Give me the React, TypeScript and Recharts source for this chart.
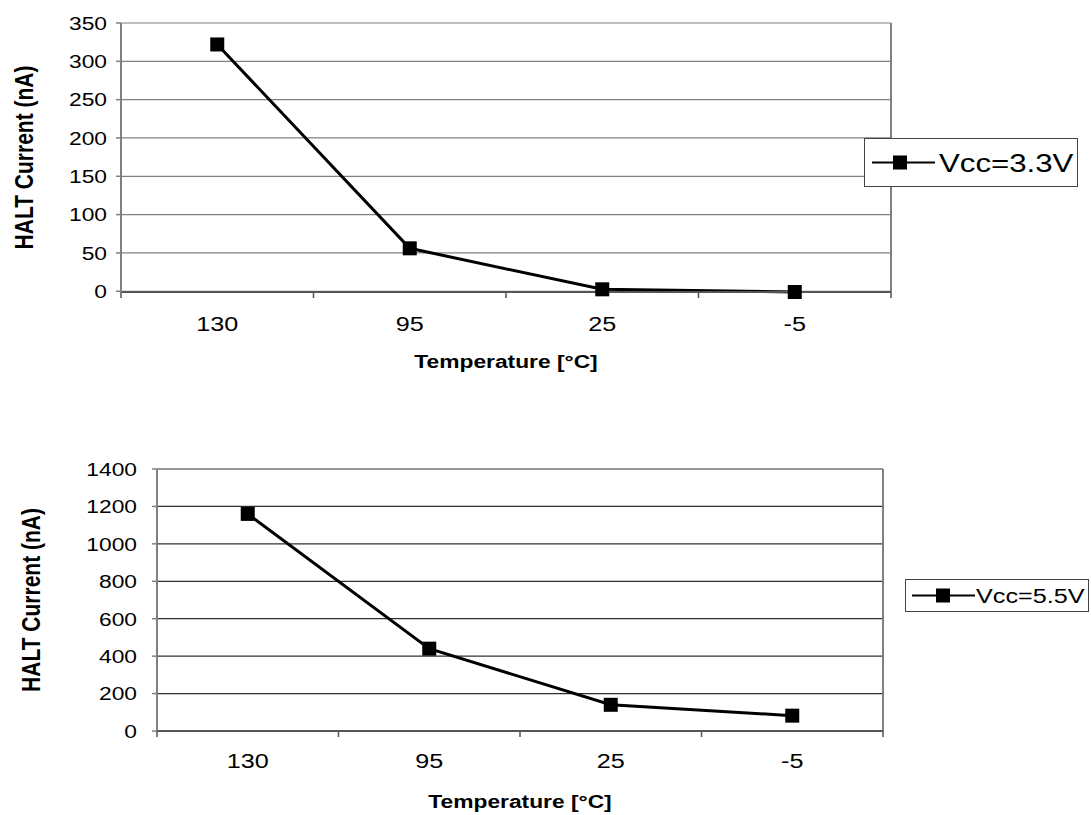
import React from "react";
import { CartesianGrid, Legend, Line, LineChart, ReferenceLine, XAxis, YAxis } from "recharts";

const TEMPS = ["130", "95", "25", "-5"];
const HALT_3V3 = [322, 56, 2.5, -1];
const HALT_5V5 = [1160, 440, 140, 82];
const Y_TICKS_3V3 = [0, 50, 100, 150, 200, 250, 300, 350];
const Y_TICKS_5V5 = [0, 200, 400, 600, 800, 1000, 1200, 1400];

const W = 1091;
const FONT = "'Liberation Sans', Arial, sans-serif";
const SX = 1.2; // the source picture is stretched sideways

function SText({ x, y, anchor = "middle", size, weight = "normal", rotate = 0, children }: any) {
  return (
    <text
      transform={`translate(${x},${y}) scale(${SX},1)${rotate ? ` rotate(${rotate})` : ""}`}
      textAnchor={anchor}
      dominantBaseline="central"
      fontSize={size}
      fontWeight={weight}
      fontFamily={FONT}
      fill="#000"
    >
      {children}
    </text>
  );
}

function LegendBox({ payload, box }: any) {
  const name = payload && payload[0] ? payload[0].value : "";
  const cy = box.h / 2;
  return (
    <svg width={box.w} height={box.h} style={{ display: "block" }}>
      <rect x={0.5} y={0.5} width={box.w - 1} height={box.h - 1} fill="#fff" stroke="#444" />
      <line x1={box.lineX1} x2={box.lineX2} y1={cy} y2={cy} stroke="#000" strokeWidth={2} />
      <rect x={box.markX - 7} y={cy - 7} width={14} height={14} fill="#000" />
      <SText x={box.textX} y={cy} anchor="start" size={box.font}>
        {name}
      </SText>
    </svg>
  );
}

function Panel({ top, height, margin, yWidth, values, yTicks, name, grid, tickGap, xLabelDy, xTitleDy, yTitleX, legend }: any) {
  const data = TEMPS.map((t, i) => ({ x: i + 0.5, temp: t, value: values[i] }));
  const n = TEMPS.length;
  const xTicks = TEMPS.flatMap((_, i) => [i, i + 0.5]).concat(n);
  const yMax = yTicks[yTicks.length - 1];

  const xTick = (p: any) => {
    const v = p.payload.value;
    if (Number.isInteger(v)) {
      return <line x1={p.x} x2={p.x} y1={p.y} y2={p.y + 6} stroke="#555" strokeWidth={1.5} />;
    }
    return (
      <SText x={p.x} y={p.y + xLabelDy} size={21}>
        {TEMPS[Math.floor(v)]}
      </SText>
    );
  };
  const yTick = (p: any) => (
    <SText x={p.x} y={p.y} anchor="end" size={19}>
      {p.payload.value}
    </SText>
  );
  const XTitle = ({ viewBox }: any) => (
    <SText x={viewBox.x + viewBox.width / 2} y={viewBox.y + xTitleDy} size={19} weight="bold">
      Temperature [°C]
    </SText>
  );
  const YTitle = ({ viewBox }: any) => (
    <SText x={viewBox.x + yTitleX} y={viewBox.y + viewBox.height / 2} size={21} weight="bold" rotate={-90}>
      HALT Current (nA)
    </SText>
  );

  return (
    <div style={{ position: "absolute", left: 0, top, width: W, height }}>
      <LineChart width={W} height={height} data={data} margin={margin}>
        <CartesianGrid vertical={false} stroke={grid} strokeWidth={1.2} />
        <XAxis
          type="number"
          dataKey="x"
          domain={[0, n]}
          ticks={xTicks}
          interval={0}
          allowDecimals
          tickSize={0}
          tickMargin={0}
          tickLine={false}
          height={margin.xHeight}
          axisLine={{ stroke: "#555", strokeWidth: 2 }}
          tick={xTick}
          label={<XTitle />}
        />
        <YAxis
          type="number"
          domain={[0, yMax]}
          ticks={yTicks}
          interval={0}
          width={yWidth}
          tickSize={5}
          tickMargin={tickGap}
          tickLine={{ stroke: "#808080", strokeWidth: 1.5 }}
          axisLine={{ stroke: "#808080", strokeWidth: 2 }}
          tick={yTick}
          label={<YTitle />}
        />
        <ReferenceLine x={n} stroke="#808080" strokeWidth={2} />
        <Line
          dataKey="value"
          name={name}
          stroke="#000"
          strokeWidth={3}
          isAnimationActive={false}
          dot={(p: any) => <rect key={p.index} x={p.cx - 7} y={p.cy - 7} width={14} height={14} fill="#000" />}
        />
        <Legend
          layout="horizontal"
          align="center"
          verticalAlign="middle"
          wrapperStyle={{ left: legend.left, top: legend.top, width: legend.w, height: legend.h }}
          content={(p: any) => <LegendBox payload={p.payload} box={legend} />}
        />
      </LineChart>
    </div>
  );
}

export default function App() {
  return (
    <div style={{ position: "absolute", left: 0, top: 0, width: W, height: 815, background: "#fff", overflow: "hidden" }}>
      <Panel
        top={0}
        height={400}
        margin={{ top: 23, right: W - 891, left: 0, bottom: 8, xHeight: 100 }}
        yWidth={121}
        values={HALT_3V3}
        yTicks={Y_TICKS_3V3}
        name="Vcc=3.3V"
        grid="#808080"
        tickGap={9}
        xLabelDy={32}
        xTitleDy={69}
        yTitleX={24}
        legend={{ left: 864, top: 138, w: 214, h: 49, lineX1: 8, lineX2: 71, markX: 36, textX: 75, font: 26 }}
      />
      <Panel
        top={420}
        height={395}
        margin={{ top: 49, right: W - 883, left: 0, bottom: 4, xHeight: 80 }}
        yWidth={157}
        values={HALT_5V5}
        yTicks={Y_TICKS_5V5}
        name="Vcc=5.5V"
        grid="#303030"
        tickGap={15}
        xLabelDy={30}
        xTitleDy={70}
        yTitleX={31}
        legend={{ left: 905, top: 159, w: 184, h: 33, lineX1: 7, lineX2: 70, markX: 38, textX: 71, font: 21 }}
      />
    </div>
  );
}
